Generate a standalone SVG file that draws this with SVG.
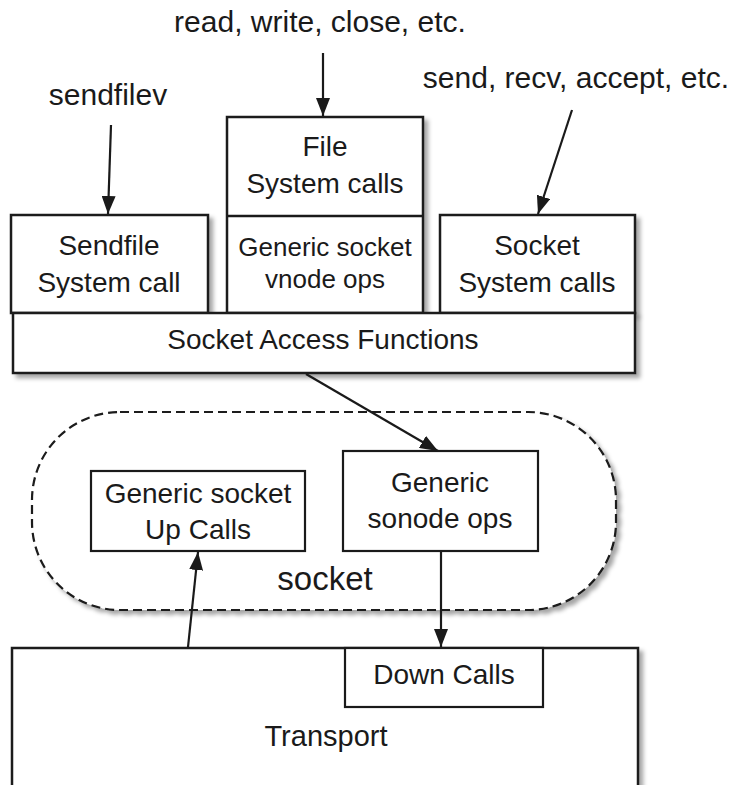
<svg xmlns="http://www.w3.org/2000/svg" width="731" height="785" viewBox="0 0 731 785">
  <style>
    .box { fill: #fff; stroke: #1a1a1a; stroke-width: 2.5; }
    .inner { fill: #fff; stroke: #1a1a1a; stroke-width: 2.2; }
    .shadow { filter: url(#drop); }
    .lbl { font-family: "Liberation Sans", Arial, Helvetica, sans-serif; font-size: 28px; fill: #1a1a1a; text-anchor: middle; }
    .top { font-size: 30px; }
    .conn { stroke: #1a1a1a; stroke-width: 2.2; fill: none; marker-end: url(#head); }
  </style>
  <defs>
    <filter id="drop" x="-10%" y="-10%" width="130%" height="130%">
      <feDropShadow dx="4" dy="4" stdDeviation="2" flood-color="#000" flood-opacity="0.35"/>
    </filter>
    <marker id="head" viewBox="0 0 18 14" refX="18" refY="7" markerWidth="18" markerHeight="14" markerUnits="userSpaceOnUse" orient="auto">
      <path d="M0,0 L18,7 L0,14 Z" fill="#1a1a1a"/>
    </marker>
  </defs>

  <rect width="731" height="785" fill="#fff"/>

  <!-- caller labels -->
  <g id="lbl-rw">
    <text class="lbl top" x="320" y="32">read, write, close, etc.</text>
  </g>
  <g id="lbl-sendfilev">
    <text class="lbl top" x="108" y="105">sendfilev</text>
  </g>
  <g id="lbl-send">
    <text class="lbl top" x="576" y="88">send, recv, accept, etc.</text>
  </g>

  <!-- socket module outline -->
  <g id="socket">
    <rect class="shadow" x="32" y="412" width="584" height="198" rx="88" ry="88" fill="#fff" stroke="#1a1a1a" stroke-width="2.2" stroke-dasharray="9 5"/>
    <text class="lbl" x="325" y="590" style="font-size:33px">socket</text>
  </g>

  <!-- transport layer -->
  <g id="transport">
    <rect class="box shadow" x="12" y="648" width="626" height="160"/>
    <text class="lbl" x="326" y="746" style="font-size:29px">Transport</text>
  </g>

  <g id="down-calls">
    <rect class="inner" x="345" y="648" width="198" height="59"/>
    <text class="lbl" x="444" y="684">Down Calls</text>
  </g>

  <g id="sendfile">
    <rect class="box shadow" x="11" y="215" width="197" height="98"/>
    <text class="lbl" x="109" y="255">Sendfile</text>
    <text class="lbl" x="109" y="292">System call</text>
  </g>

  <g id="file-vnode">
    <rect class="box shadow" x="227" y="117" width="196" height="196"/>
    <line x1="227" y1="216" x2="423" y2="216" stroke="#1a1a1a" stroke-width="2.5"/>
    <text class="lbl" x="325" y="156">File</text>
    <text class="lbl" x="325" y="193">System calls</text>
    <text class="lbl" x="325" y="256" style="font-size:26px">Generic socket</text>
    <text class="lbl" x="325" y="288" style="font-size:26px">vnode ops</text>
  </g>

  <g id="socket-syscalls">
    <rect class="box shadow" x="440" y="215" width="195" height="98"/>
    <text class="lbl" x="537" y="255">Socket</text>
    <text class="lbl" x="537" y="292">System calls</text>
  </g>

  <g id="access">
    <rect class="box shadow" x="13" y="313" width="622" height="60"/>
    <text class="lbl" x="323" y="349">Socket Access Functions</text>
  </g>

  <g id="upcalls">
    <rect class="inner" x="91" y="471" width="214" height="80"/>
    <text class="lbl" x="198" y="503">Generic socket</text>
    <text class="lbl" x="198" y="539">Up Calls</text>
  </g>

  <g id="sonode">
    <rect class="inner" x="343" y="451" width="195" height="100"/>
    <text class="lbl" x="440" y="492">Generic</text>
    <text class="lbl" x="440" y="528">sonode ops</text>
  </g>

  <!-- connectors -->
  <g id="connectors">
    <line class="conn" x1="323" y1="53" x2="323" y2="116"/>
    <line class="conn" x1="111" y1="125" x2="108" y2="214"/>
    <line class="conn" x1="572" y1="110" x2="538" y2="214"/>
    <line class="conn" x1="306" y1="374" x2="438" y2="451"/>
    <line class="conn" x1="441" y1="552" x2="441" y2="647"/>
    <line class="conn" x1="188" y1="647" x2="198" y2="552"/>
  </g>
</svg>
